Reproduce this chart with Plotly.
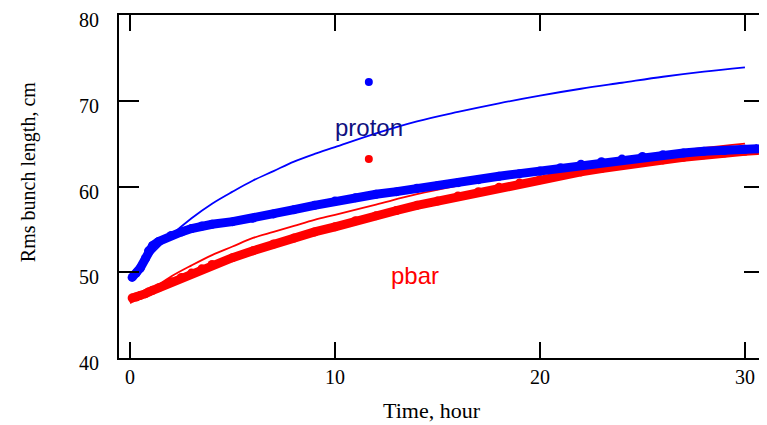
"""
Rms bunch length vs time - proton / pbar, data and model
"""
import plotly.graph_objects as go

# --- data ---
# measured points (thick dotted bands)
t_data = [0.1, 0.3, 0.5, 0.75, 0.9, 1.1, 1.4, 2, 2.5, 3, 3.5, 4, 5, 6, 7, 8, 9, 10,
          11, 12, 13, 14, 15, 16, 17, 18, 19, 20, 21, 22, 23, 24, 25, 26, 27, 28,
          29, 30, 30.6]
proton_data = [49.4, 49.9, 50.5, 51.6, 52.5, 53.1, 53.6, 54.3, 54.7, 55.1, 55.4, 55.6,
               55.9, 56.3, 56.8, 57.3, 57.8, 58.3, 58.7, 59.1, 59.4, 59.8, 60.1, 60.45,
               60.8, 61.2, 61.5, 61.8, 62.2, 62.6, 62.9, 63.2, 63.5, 63.7, 63.9, 64.1,
               64.2, 64.35, 64.4]
pbar_data = [47.0, 47.1, 47.3, 47.5, 47.7, 47.9, 48.2, 48.9, 49.4, 49.9, 50.4, 50.9,
             51.7, 52.5, 53.3, 54.0, 54.7, 55.3, 56.0, 56.6, 57.2, 57.8, 58.3, 58.9,
             59.4, 59.9, 60.4, 60.8, 61.3, 61.7, 62.1, 62.5, 62.8, 63.1, 63.4, 63.7,
             63.9, 64.1, 64.2]

# model curves (thin lines)
t_model = [0, 1, 2, 3, 4, 5, 6, 7, 8, 9, 10, 12, 14, 16, 18, 20, 22, 24, 26, 28, 30]
proton_model = [49.3, 52.0, 54.3, 56.3, 58.0, 59.4, 60.7, 61.8, 62.9, 63.8, 64.6, 66.2,
                67.6, 68.7, 69.7, 70.6, 71.4, 72.1, 72.8, 73.4, 73.9]
pbar_model = [46.4, 47.9, 49.5, 50.8, 52.0, 53.0, 54.0, 54.7, 55.4, 56.1, 56.7, 57.9,
              59.1, 60.1, 61.0, 61.8, 62.6, 63.3, 63.9, 64.5, 65.0]

# legend-like single dots
key_t = [11.65, 11.65]
key_val = [72.2, 63.2]
key_colors = ['#0000ff', '#ff0000']

x_ticks = [0, 10, 20, 30]
y_ticks = [40, 50, 60, 70, 80]

fig = go.Figure()
fig.add_trace(go.Scatter(x=t_model, y=pbar_model, mode='lines',
                         line=dict(color='#ff0000', width=1.8, shape='spline')))
fig.add_trace(go.Scatter(x=t_model, y=proton_model, mode='lines',
                         line=dict(color='#0000ff', width=1.8, shape='spline')))
fig.add_trace(go.Scatter(x=t_data, y=pbar_data, mode='lines+markers',
                         line=dict(color='#ff0000', width=9),
                         marker=dict(color='#ff0000', size=9)))
fig.add_trace(go.Scatter(x=t_data, y=proton_data, mode='lines+markers',
                         line=dict(color='#0000ff', width=9),
                         marker=dict(color='#0000ff', size=9)))
fig.add_trace(go.Scatter(x=key_t, y=key_val, mode='markers',
                         marker=dict(color=key_colors, size=8)))

fig.add_annotation(x=11.65, y=66.9, text='proton', showarrow=False,
                   font=dict(family='Liberation Sans', size=24, color='#10107f'))
fig.add_annotation(x=13.9, y=49.6, text='pbar', showarrow=False,
                   font=dict(family='Liberation Sans', size=24, color='#ff0000'))

serif = dict(family='Liberation Serif', size=20, color='black')
fig.add_annotation(xref='paper', yref='paper', x=0.485, y=-0.152, text='Time, hour',
                   xanchor='center', yanchor='middle', showarrow=False,
                   font=dict(family='Liberation Serif', size=22, color='black'))
fig.add_annotation(xref='paper', yref='paper', x=-0.141, y=0.542,
                   text='Rms bunch length, cm', textangle=-90,
                   xanchor='center', yanchor='middle', showarrow=False, font=serif)

axis_common = dict(showline=True, linewidth=2, linecolor='black', mirror='allticks',
                   ticks='inside', tickwidth=2, tickcolor='black',
                   showgrid=False, zeroline=False, tickfont=serif,
                   ticklabeloverflow='allow', automargin=False)
fig.update_xaxes(range=[-0.54, 30.93], tickvals=x_ticks, ticklen=16,
                 ticklabelstandoff=0, **axis_common)
fig.update_yaxes(range=[40, 80], tickvals=y_ticks, ticklen=20,
                 ticklabelstandoff=14, ticklabelshift=5, **axis_common)

# page body has an 8px margin, so the figure is drawn 8px smaller and shifted
fig.update_layout(width=759, height=417, showlegend=False,
                  margin=dict(l=111, r=3, t=7, b=67),
                  paper_bgcolor='white', plot_bgcolor='white')

fig.write_html("out.html")
